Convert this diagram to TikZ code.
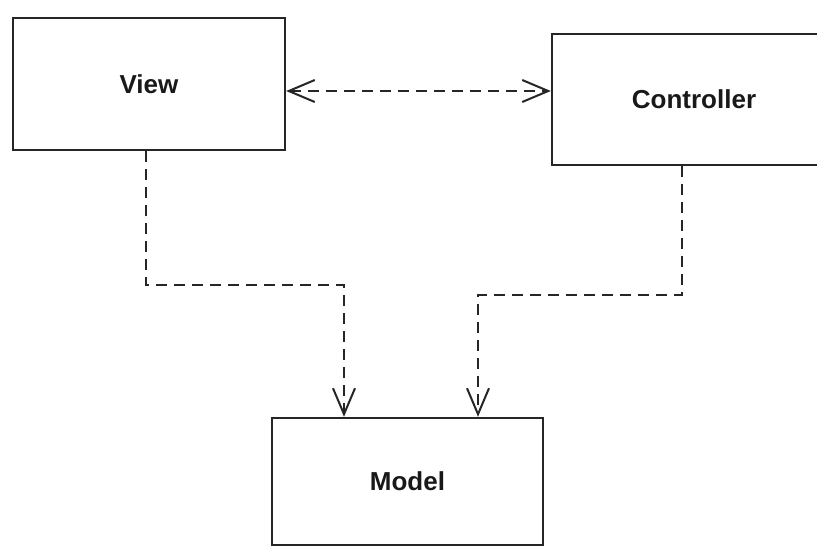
\documentclass[tikz,border=0pt]{standalone}
\usepackage{fontspec}
\setmainfont{Liberation Sans}
\usetikzlibrary{arrows.meta}
\tikzset{
  boxnode/.style={draw=black!85, line width=2.4pt, inner sep=0pt, fill=white,
    font=\fontsize{26}{30}\selectfont\bfseries, text=black!90},
  conn/.style={draw=black!85, line width=2.2pt, dash pattern=on 11pt off 7pt},
  tip/.style={-{Straight Barb[length=26pt,width=22pt,line width=2pt]}},
  bitip/.style={{Straight Barb[length=26pt,width=22pt,line width=2pt]}-{Straight Barb[length=26pt,width=22pt,line width=2pt]}}
}
\begin{document}
\begin{tikzpicture}[x=1pt,y=-1pt]
\path[clip] (0,0) rectangle (817,552);
\fill[white] (0,0) rectangle (817,552);
\node[boxnode, minimum width=272pt, minimum height=132pt] (view) at (149,84) {View};
\node[boxnode, minimum width=284pt, minimum height=131pt] (ctrl) at (694,99.5) {Controller};
\node[boxnode, minimum width=271pt, minimum height=127pt] (model) at (407.5,481.5) {Model};
\coordinate (hc) at (420,91);
\coordinate (vm) at (344,285);
\coordinate (cm) at (478,295);
\draw[conn, bitip] (view.east |- hc) -- (ctrl.west |- hc);
\draw[conn, tip] ([xshift=-3pt]view.south) |- (vm) -- (vm |- model.north);
\draw[conn, tip] ([xshift=-12pt]ctrl.south) |- (cm) -- (cm |- model.north);
\end{tikzpicture}
\end{document}
